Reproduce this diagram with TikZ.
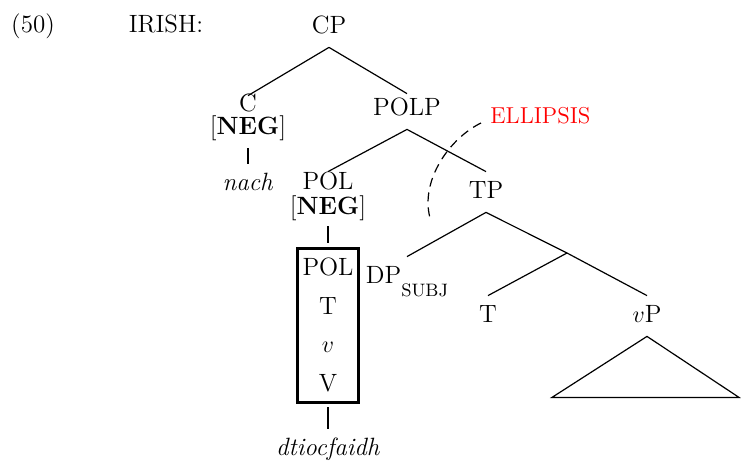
\documentclass[tikz,border=0pt]{standalone}
\usepackage{fontspec}
\tikzset{
  tnode/.style={anchor=base, inner xsep=1pt, inner ysep=6pt, text height=0.7em, text depth=1pt},
  branch/.style={line width=0.6pt},
}
\begin{document}
\begin{tikzpicture}[x=0.5pt,y=-0.5pt,font=\fontsize{12.5}{15}\selectfont]
\useasboundingbox (0,0) rectangle (741,461);

\node[tnode] (ex) at (33,32) {(50)};
\node[tnode] (lang) at (166,32) {IRISH:};

\node[tnode] (cp) at (329,33) {CP};
\node[tnode, inner ysep=0.5pt] (c) at (248,111) {C};
\node[tnode] (cneg) at (248,134) {[\textbf{NEG}]};
\node[tnode] (nach) at (248,190) {\textit{nach}};
\node[tnode, inner ysep=3.5pt, text depth=3.5pt] (polp) at (407,115) {POLP};
\draw[branch] (cp.south) -- (c.north);
\draw[branch] (cp.south) -- (polp.north);
\draw[branch] (cneg.south) -- (nach.north);

\node[tnode, inner ysep=1.5pt] (pol) at (328,189) {POL};
\node[tnode, text depth=0pt] (polneg) at (328,214) {[\textbf{NEG}]};
\node[draw, line width=1.5pt, outer sep=2.5pt, inner sep=0pt, minimum width=30.5pt,
  minimum height=77pt, align=center, font=\fontsize{12.5}{19.3}\selectfont]
  (cplx) at (328,325) {POL\\T\\$v$\\V};
\node[tnode] (verb) at (328,455) {\textit{dtiocfaidh}};
\node[tnode] (tp) at (486,198) {TP};
\draw[branch] (polp.south) -- (pol.north);
\draw[branch] (polp.south) -- (tp.north);
\draw[branch] (polneg.south) -- (cplx.north);
\draw[branch] (cplx.south) -- (verb.north);

\node[tnode] (dp) at (407,283) {DP\raisebox{-6.5pt}{\fontsize{9}{9}\selectfont SUBJ}};
\coordinate (tbar) at (567,253);
\node[tnode] (t) at (488,322) {T};
\node[tnode] (vp) at (647,322) {$v$P};
\draw[branch] (tp.south) -- (dp.north);
\draw[branch] (tp.south) -- (tbar) -- (vp.north);
\draw[branch] (tbar) -- (t.north);
\draw[branch] (vp.south) -- ++(-95,61) -- ++(187,0) -- cycle;

% ellipsis site
\node[anchor=base west, inner xsep=4.5pt, inner ysep=0pt, text=red, font=\fontsize{11.5}{14}\selectfont]
  (ell) at (481,123) {ELLIPSIS};
\coordinate (ellend) at (430,218);
\draw[line width=0.6pt, dash pattern=on 4.5pt off 3pt]
  (ell.base west) .. controls (450,138) and (420,180) .. (ellend);
\end{tikzpicture}
\end{document}
